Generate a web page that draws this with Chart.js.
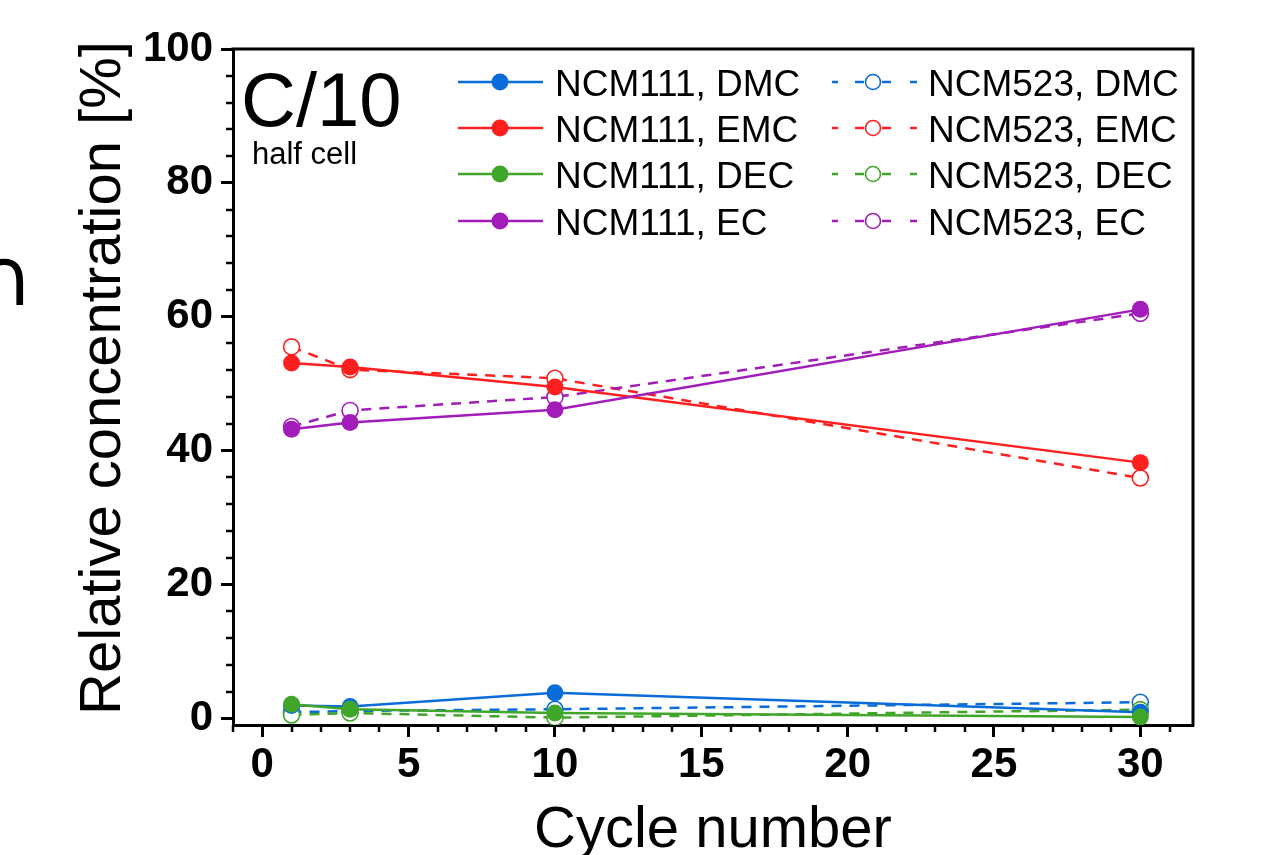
<!DOCTYPE html>
<html><head><meta charset="utf-8">
<script src="https://cdn.jsdelivr.net/npm/chart.js@4.4.0/dist/chart.umd.min.js"></script>
<style>html,body{margin:0;padding:0;background:#fff;overflow:hidden}#wrap{width:1261px;height:855px;position:relative}</style>
</head><body><div id="wrap"><canvas id="c" width="1261" height="855"></canvas></div>
<script>
// ---- data ----
const cycles = [1, 3, 10, 30];
const ncm111_DMC = [1.9, 1.75, 3.8, 0.9];
const ncm111_EMC = [53.1, 52.5, 49.5, 38.2];
const ncm111_DEC = [2.1, 1.35, 0.8, 0.2];
const ncm111_EC  = [43.2, 44.2, 46.1, 61.1];
const ncm523_DMC = [0.9, 1.1, 1.35, 2.4];
const ncm523_EMC = [55.5, 52.1, 50.8, 35.9];
const ncm523_DEC = [0.5, 0.8, 0.1, 1.3];
const ncm523_EC  = [43.6, 46.0, 48.0, 60.5];
const xTickValues = [0, 5, 10, 15, 20, 25, 30];
const yTickValues = [0, 20, 40, 60, 80, 100];
const seriesLabels = ['NCM111, DMC','NCM111, EMC','NCM111, DEC','NCM111, EC','NCM523, DMC','NCM523, EMC','NCM523, DEC','NCM523, EC'];

const C = {DMC:'#0a6cd9', EMC:'#ff1f1f', DEC:'#40a629', EC:'#a11cb8'};
const pts = arr => arr.map((v,i)=>({x:cycles[i], y:v}));

function solid(label, arr, col){
  return {label, data:pts(arr), borderColor:col, backgroundColor:col, borderWidth:2.5,
    pointRadius:8.5, pointHoverRadius:8.5, pointBackgroundColor:col, pointBorderColor:col, pointBorderWidth:0, tension:0, fill:false};
}
function dashed(label, arr, col){
  return {label, data:pts(arr), borderColor:col, backgroundColor:'#fff', borderWidth:2.5, borderDash:[10,8],
    pointRadius:8, pointHoverRadius:8, pointBackgroundColor:'#fff', pointBorderColor:col, pointBorderWidth:1.6, tension:0, fill:false};
}
const dsMap = {
  'NCM111, DMC': solid('NCM111, DMC', ncm111_DMC, C.DMC),
  'NCM111, EMC': solid('NCM111, EMC', ncm111_EMC, C.EMC),
  'NCM111, DEC': solid('NCM111, DEC', ncm111_DEC, C.DEC),
  'NCM111, EC':  solid('NCM111, EC',  ncm111_EC,  C.EC),
  'NCM523, DMC': dashed('NCM523, DMC', ncm523_DMC, C.DMC),
  'NCM523, EMC': dashed('NCM523, EMC', ncm523_EMC, C.EMC),
  'NCM523, DEC': dashed('NCM523, DEC', ncm523_DEC, C.DEC),
  'NCM523, EC':  dashed('NCM523, EC',  ncm523_EC,  C.EC)
};
// index 0 is drawn on top in Chart.js
const drawOrder = ['NCM111, EC','NCM111, DEC','NCM111, EMC','NCM111, DMC','NCM523, EC','NCM523, DEC','NCM523, EMC','NCM523, DMC'];
const datasets = drawOrder.map(k=>dsMap[k]);

const extras = {
  id:'extras',
  afterDraw(chart){
    const ctx = chart.ctx, a = chart.chartArea, xs = chart.scales.x, ys = chart.scales.y;
    ctx.save();
    ctx.strokeStyle = '#000'; ctx.lineWidth = 3; ctx.setLineDash([]);
    ctx.beginPath(); ctx.moveTo(a.left-1.5, a.top); ctx.lineTo(a.right, a.top); ctx.lineTo(a.right, a.bottom+1.5); ctx.stroke();
    // minor ticks
    ctx.lineWidth = 2.5;
    for(let v=-1; v<=31; v++){
      if(v%5===0) continue;
      const px = Math.round(xs.getPixelForValue(v));
      ctx.beginPath(); ctx.moveTo(px, a.bottom); ctx.lineTo(px, a.bottom+7); ctx.stroke();
    }
    for(let v=4; v<100; v+=4){
      if(v%20===0) continue;
      const py = Math.round(ys.getPixelForValue(v));
      ctx.beginPath(); ctx.moveTo(a.left, py); ctx.lineTo(a.left-7, py); ctx.stroke();
    }
    // axis titles
    ctx.fillStyle = '#000';
    ctx.font = '58px "Liberation Sans", Arial, sans-serif';
    ctx.textAlign = 'center'; ctx.textBaseline = 'alphabetic';
    ctx.fillText('Cycle number', (a.left+a.right)/2, 847);
    ctx.save(); ctx.translate(120, 378); ctx.rotate(-Math.PI/2);
    ctx.fillText('Relative concentration [%]', 0, 0); ctx.restore();
    // annotations
    ctx.textAlign = 'left';
    ctx.font = '76px "Liberation Sans", Arial, sans-serif';
    ctx.fillText('C/10', 241, 126);
    ctx.font = '31px "Liberation Sans", Arial, sans-serif';
    ctx.fillText('half cell', 252, 164);
    // cropped panel glyph at left edge
    ctx.font = '80px "DejaVu Sans", sans-serif';
    ctx.fillText('\u2229', -25, 305);
    // legend
    const rows = [82, 128, 174, 221];
    ctx.font = '37px "Liberation Sans", Arial, sans-serif';
    seriesLabels.forEach((lab, i)=>{
      const ds = dsMap[lab];
      const col = i<4 ? 0 : 1;
      const y = rows[i%4];
      ctx.strokeStyle = ds.borderColor; ctx.lineWidth = 2.5;
      if(col===0){
        ctx.setLineDash([]);
        ctx.beginPath(); ctx.moveTo(458, y); ctx.lineTo(543, y); ctx.stroke();
        ctx.beginPath(); ctx.arc(500, y, 8.5, 0, Math.PI*2); ctx.fillStyle = ds.pointBackgroundColor; ctx.fill();
        ctx.fillStyle = '#000'; ctx.fillText(lab, 555, y+13.5);
      } else {
        ctx.setLineDash([]);
        [[832,838],[855,864],[882,891],[910,917]].forEach(s=>{
          ctx.beginPath(); ctx.moveTo(s[0], y); ctx.lineTo(s[1], y); ctx.stroke();
        });
        ctx.beginPath(); ctx.arc(873, y, 7.5, 0, Math.PI*2); ctx.fillStyle = '#fff'; ctx.fill();
        ctx.lineWidth = 1.6; ctx.stroke();
        ctx.fillStyle = '#000'; ctx.fillText(lab, 928, y+13.5);
      }
    });
    ctx.restore();
  }
};

const tickFont = {family:'"Liberation Sans", Arial, sans-serif', weight:'bold', size:42};
new Chart(document.getElementById('c'), {
  type:'line',
  data:{datasets},
  options:{
    responsive:false, animation:false, devicePixelRatio:1,
    layout:{padding:{top:49, right:68, left:0, bottom:0}},
    plugins:{legend:{display:false}, tooltip:{enabled:false}},
    scales:{
      x:{type:'linear', position:'bottom', min:-1, max:31.8,
        afterBuildTicks:s=>{ s.ticks = xTickValues.map(v=>({value:v})); },
        afterFit:s=>{ s.height = 130; },
        ticks:{font:tickFont, color:'#000', padding:3, maxRotation:0, autoSkip:false, callback:v=>String(v)},
        grid:{drawOnChartArea:false, drawTicks:true, tickLength:12, tickWidth:3, tickColor:'#000'},
        border:{display:true, color:'#000', width:3}},
      y:{type:'linear', position:'left', min:-1, max:100,
        afterBuildTicks:s=>{ s.ticks = yTickValues.map(v=>({value:v})); },
        afterFit:s=>{ s.width = 233; },
        ticks:{font:tickFont, color:'#000', padding:8, autoSkip:false, callback:v=>String(v)},
        grid:{drawOnChartArea:false, drawTicks:true, tickLength:12, tickWidth:3, tickColor:'#000'},
        border:{display:true, color:'#000', width:3}}
    }
  },
  plugins:[extras]
});
</script>
</body></html>
